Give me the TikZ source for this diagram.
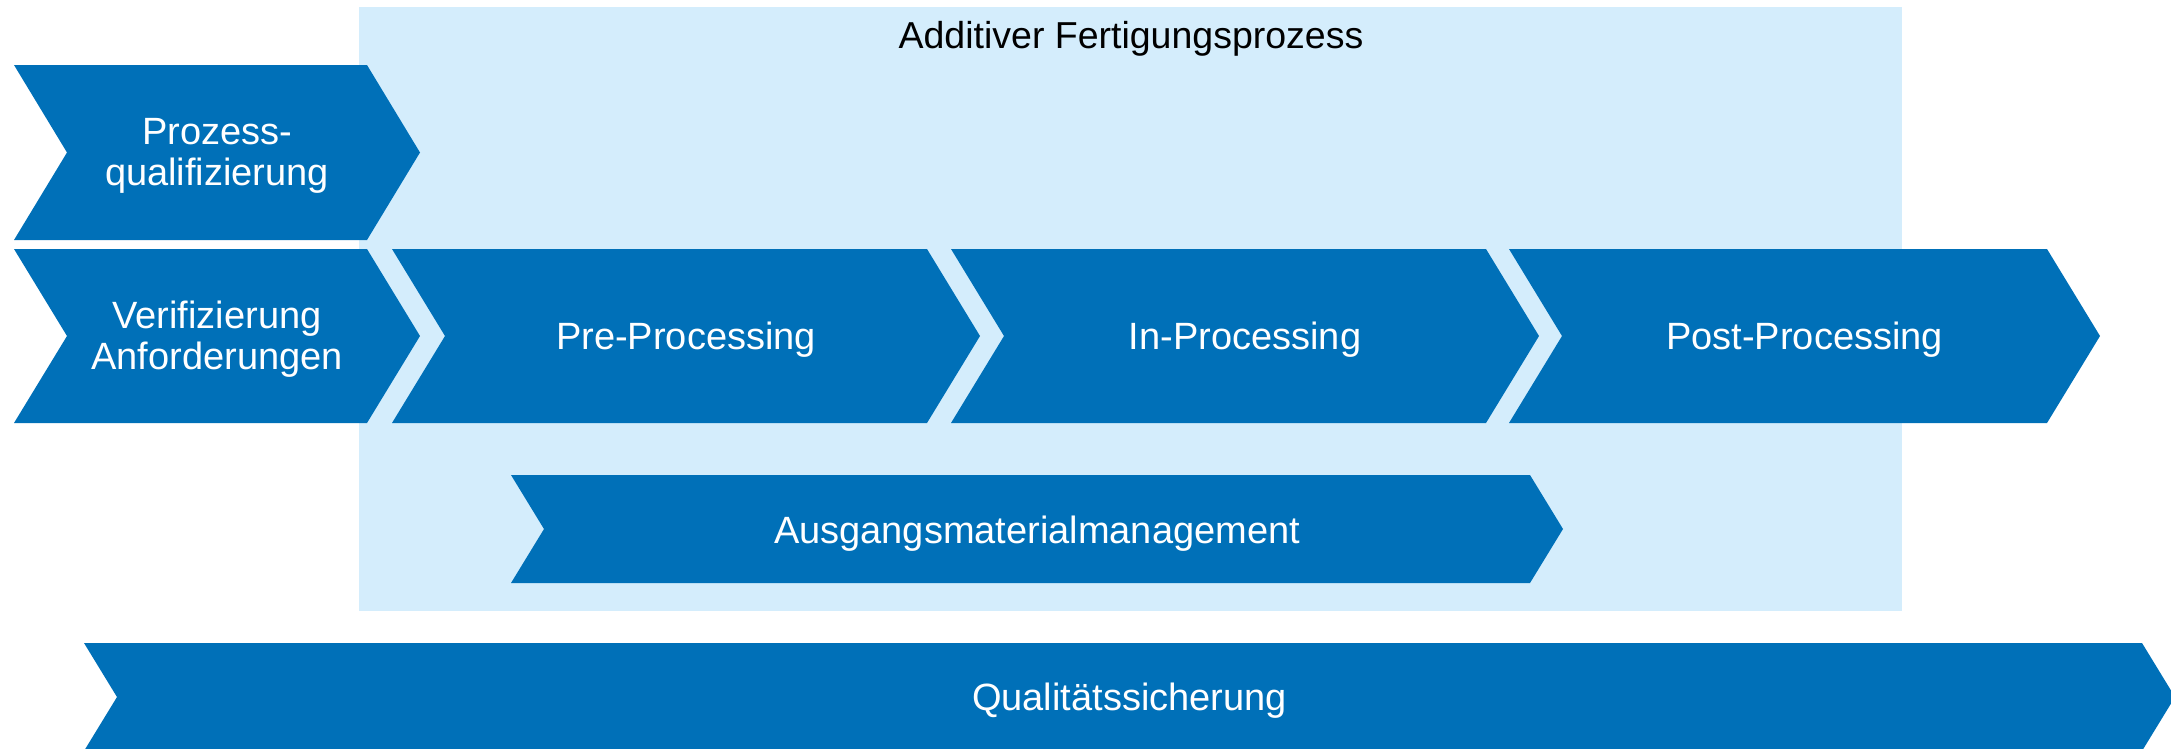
\documentclass[tikz,border=0pt]{standalone}
\usepackage{fontspec}
\setmainfont{Liberation Sans}
\definecolor{chevblue}{RGB}{0,112,184}
\definecolor{areablue}{RGB}{212,237,252}
\tikzset{
  chevfill/.style={fill=chevblue},
  chevtext/.style={text=white, font=\fontsize{38}{41}\selectfont, align=center, inner sep=0pt, anchor=base},
  areatitle/.style={text=black, font=\fontsize{37.5}{41}\selectfont, inner sep=0pt, anchor=base},
}
% #1 name, #2 left x, #3 shoulder x, #4 top y, #5 bottom y, #6 point depth, #7 baseline y (last line), #8 label
\newcommand{\chevron}[8]{%
  \fill[chevfill] (#2,#4) -- (#3,#4) -- ({#3+#6},{(#4+#5)/2}) -- (#3,#5) -- (#2,#5)
    -- ({#2+#6},{(#4+#5)/2}) -- cycle;
  \node[chevtext] (#1) at ({(#2+#3+#6)/2},#7) {#8};}
\begin{document}
\begin{tikzpicture}[x=1pt,y=-1pt]
  \useasboundingbox (0,0) rectangle (2171,748);
  % light area of the additive process
  \fill[areablue] (359,7) rectangle (1902,611);
  \node[areatitle] (title) at (1131,48) {Additiver Fertigungsprozess};
  % left column
  \chevron{prozess}{14}{367}{65}{240}{53}{185}{Prozess-\\qualifizierung}
  \chevron{verif}{14}{367}{249}{423}{53}{369}{Verifizierung\\Anforderungen}
  % process chain
  \chevron{pre}{392}{927}{249}{423}{53}{349}{Pre-Processing}
  \chevron{in}{951}{1486}{249}{423}{53}{349}{In-Processing}
  \chevron{post}{1509}{2047}{249}{423}{53}{349}{Post-Processing}
  % material and quality
  \chevron{material}{511}{1530}{475}{583}{33}{543}{Ausgangsmaterialmanagement}
  \chevron{quali}{84}{2142}{643}{751}{33}{710}{Qualitätssicherung}
\end{tikzpicture}
\end{document}
